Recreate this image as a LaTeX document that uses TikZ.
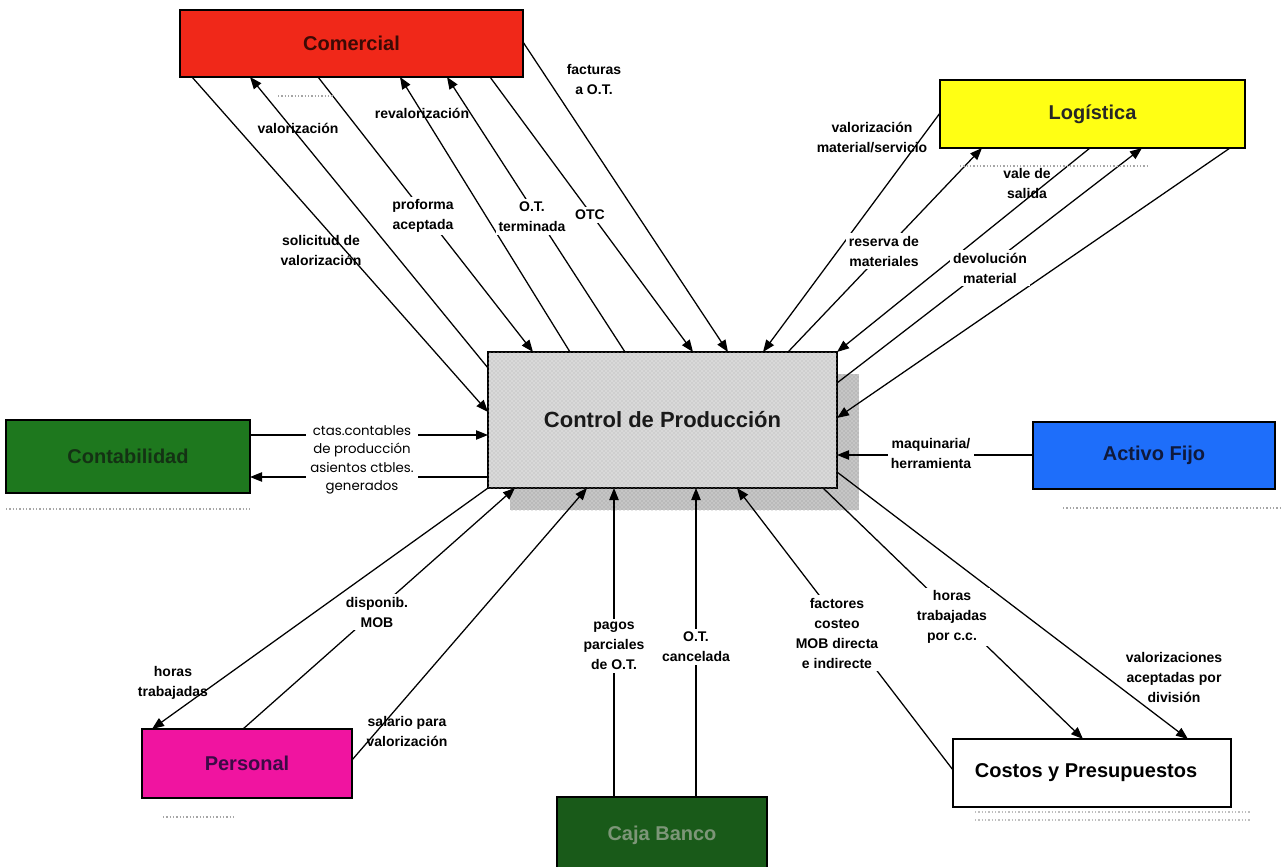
\documentclass[tikz,border=0pt]{standalone}
\usepackage{fontspec}
\setmainfont{Liberation Sans}
\newfontfamily\gothic{Poppins}
\usetikzlibrary{arrows.meta,calc,patterns,backgrounds}

\definecolor{comred}{RGB}{240,40,25}
\definecolor{logyel}{RGB}{255,255,20}
\definecolor{contgreen}{RGB}{30,120,30}
\definecolor{actblue}{RGB}{30,110,250}
\definecolor{persmag}{RGB}{240,20,160}
\definecolor{cajagreen}{RGB}{25,90,25}

\begin{document}
\begin{tikzpicture}[x=0.75pt,y=-0.75pt,
  box/.style={draw=black, line width=1.1pt, inner sep=0pt, outer sep=0pt,
    font=\fontsize{15}{18}\selectfont\bfseries},
  flow/.style={line width=0.95pt, -{Triangle[length=9pt,width=7pt]}},
  lbl/.style={font=\fontsize{10.5}{15}\selectfont\bfseries, align=center, inner sep=1pt},
  gap/.style={lbl, fill=white, inner sep=2pt},
  speck/.style={gray!70, line width=1.5pt, dash pattern=on 1pt off 1.5pt},
]
\useasboundingbox (0,0) rectangle (1282,867);

% ---------- boxes ----------
\node[box, fill=gray!30, minimum width=261.75pt, minimum height=102pt,
      postaction={pattern=crosshatch dots, pattern color=gray!60},
      font=\fontsize{16.5}{20}\selectfont\bfseries, text=black!90]
      (ctrl) at (662.5,420) {Control de Producción};
\node[box, fill=comred, minimum width=257.25pt, minimum height=50.25pt, text={rgb,255:red,60;green,10;blue,5}]
      (com) at (351.5,43.5) {Comercial};
\node[box, fill=logyel, minimum width=228.75pt, minimum height=51pt, text=black!85]
      (log) at (1092.5,114) {Logística};
\node[box, fill=contgreen, minimum width=183pt, minimum height=54.75pt, text={rgb,255:red,20;green,50;blue,20}]
      (cont) at (128,456.5) {Contabilidad};
\node[box, fill=actblue, minimum width=181.5pt, minimum height=50.25pt, text={rgb,255:red,15;green,25;blue,60}]
      (act) at (1154,455.5) {Activo Fijo};
\node[box, fill=persmag, minimum width=157.5pt, minimum height=51.75pt, text={rgb,255:red,60;green,10;blue,70}]
      (pers) at (247,763.5) {Personal};
\node[box, fill=cajagreen, minimum width=157.5pt, minimum height=57pt, text={rgb,255:red,125;green,150;blue,120}]
      (caja) at (662,835) {Caja Banco};
\node[box, fill=white, minimum width=208.5pt, minimum height=51pt, text=black]
      (cost) at (1092,773) {\hspace*{-9pt}Costos y Presupuestos};

% stippled shadow of the central box
\begin{scope}[on background layer]
  \fill[gray!45] ($(ctrl.north west)+(22,22)$) rectangle ($(ctrl.south east)+(22,22)$);
  \fill[pattern=crosshatch dots, pattern color=gray!85]
       ($(ctrl.north west)+(22,22)$) rectangle ($(ctrl.south east)+(22,22)$);
\end{scope}

% ---------- Comercial <-> Control ----------
\draw[flow] ($(com.south west)+(12,0)$) -- ($(ctrl.north west)+(0,60)$);
\draw[flow] ($(ctrl.north west)+(0,16)$) -- ($(com.south west)+(70,0)$);
\draw[flow] ($(com.south west)+(138,0)$) -- ($(ctrl.north west)+(45,0)$);
\draw[flow] ($(ctrl.north west)+(82,0)$) -- ($(com.south west)+(220,0)$);
\draw[flow] ($(ctrl.north west)+(137,0)$) -- ($(com.south west)+(267,0)$);
\draw[flow] ($(com.south west)+(310,0)$) -- ($(ctrl.north west)+(205,0)$);
\draw[flow] ($(com.north east)+(0,32)$) -- ($(ctrl.north west)+(240,0)$);

% ---------- Logistica <-> Control ----------
\draw[flow] ($(log.north west)+(0,33)$) -- ($(ctrl.north west)+(275,0)$);
\draw[flow] ($(ctrl.north west)+(300,0)$) -- ($(log.south west)+(42,0)$);
\draw[flow] ($(log.south west)+(150,0)$) -- (ctrl.north east);
\draw[flow] ($(ctrl.north east)+(0,31)$) -- ($(log.south west)+(202,0)$);
\draw[flow] ($(log.south east)+(-15,0)$) -- ($(ctrl.north east)+(0,66)$);

% ---------- Contabilidad <-> Control ----------
\draw[flow] ($(cont.north east)+(0,15)$) -- ($(ctrl.north west)+(0,83)$);
\draw[flow] ($(ctrl.north west)+(0,125)$) -- ($(cont.north east)+(0,57)$);

% ---------- Activo Fijo -> Control ----------
\draw[flow] ($(act.north west)+(0,33)$) -- ($(ctrl.north east)+(0,103)$);

% ---------- Personal <-> Control ----------
\draw[flow] (ctrl.south west) -- ($(pers.north west)+(10,0)$);
\draw[flow] ($(pers.north west)+(101,0)$) -- ($(ctrl.south west)+(27,0)$);
\draw[flow] ($(pers.north east)+(0,31)$) -- ($(ctrl.south west)+(99,0)$);

% ---------- Caja Banco -> Control ----------
\draw[flow] ($(caja.north west)+(57,0)$) -- ($(ctrl.south west)+(126,0)$);
\draw[flow] ($(caja.north west)+(139,0)$) -- ($(ctrl.south west)+(208,0)$);

% ---------- Costos y Presupuestos <-> Control ----------
\draw[flow] ($(cost.north west)+(0,31)$) -- ($(ctrl.south west)+(249,0)$);
\draw[flow] ($(ctrl.south east)+(-14,0)$) -- ($(cost.north west)+(130,0)$);
\draw[flow] ($(ctrl.south east)+(0,-16)$) -- ($(cost.north west)+(235,0)$);

% ---------- flow labels ----------
\node[lbl] (ta) at (321,250) {solicitud de\\valorización};
\node[lbl] (tb) at (298,128) {valorización};
\node[gap] (tc) at (423,216) {proforma\\aceptada};
\node[lbl] (td) at (422,113) {revalorización};
\node[gap] (te) at (532,217) {O.T.\\terminada};
\node[gap] (tf) at (590,215) {OTC};
\node[lbl] (tg) at (594,79) {facturas\\a O.T.};
\node[lbl] (th) at (872,138) {valorización\\material/servicio};
\node[gap] (ti) at (884,251) {reserva de\\materiales};
\node[lbl] (tj) at (1027,183) {vale de\\salida};
\node[gap] (tk) at (990,268) {devolución\\material};
\node[gap, font=\gothic\fontsize{10}{13.9}\selectfont, inner sep=3pt] (tm) at (362,460)
      {ctas.contables\\de producción\\asientos ctbles.\\generados};
\node[gap] (to) at (931,453) {maquinaria/\\herramienta};
\node[lbl] (tp) at (173,683) {horas\\trabajadas};
\node[gap] (tq) at (377,612) {disponib.\\MOB};
\node[lbl] (tr) at (407,731) {salario para\\valorización};
\node[gap] (ts) at (614,646) {pagos\\parciales\\de O.T.};
\node[gap] (tt) at (696,647) {O.T.\\cancelada};
\node[gap] (tu) at (837,633) {factores\\costeo\\MOB directa\\e indirecte};
\node[gap] (tv) at (952,617) {horas\\trabajadas\\por c.c.};
\node[lbl] (tw) at (1174,677) {valorizaciones\\aceptadas por\\división};

% ---------- faint print specks under some boxes ----------
\draw[speck] (278,96) -- (333,96);
\draw[speck] (960,166) -- (1150,166);
\draw[speck] (6,509) -- (250,509);
\draw[speck] (1063,508) -- (1282,508);
\draw[speck] (163,817) -- (235,817);
\draw[speck, gray!50] (975,812) -- (1250,812);
\draw[speck, gray!50] (975,820) -- (1250,820);
\end{tikzpicture}
\end{document}
